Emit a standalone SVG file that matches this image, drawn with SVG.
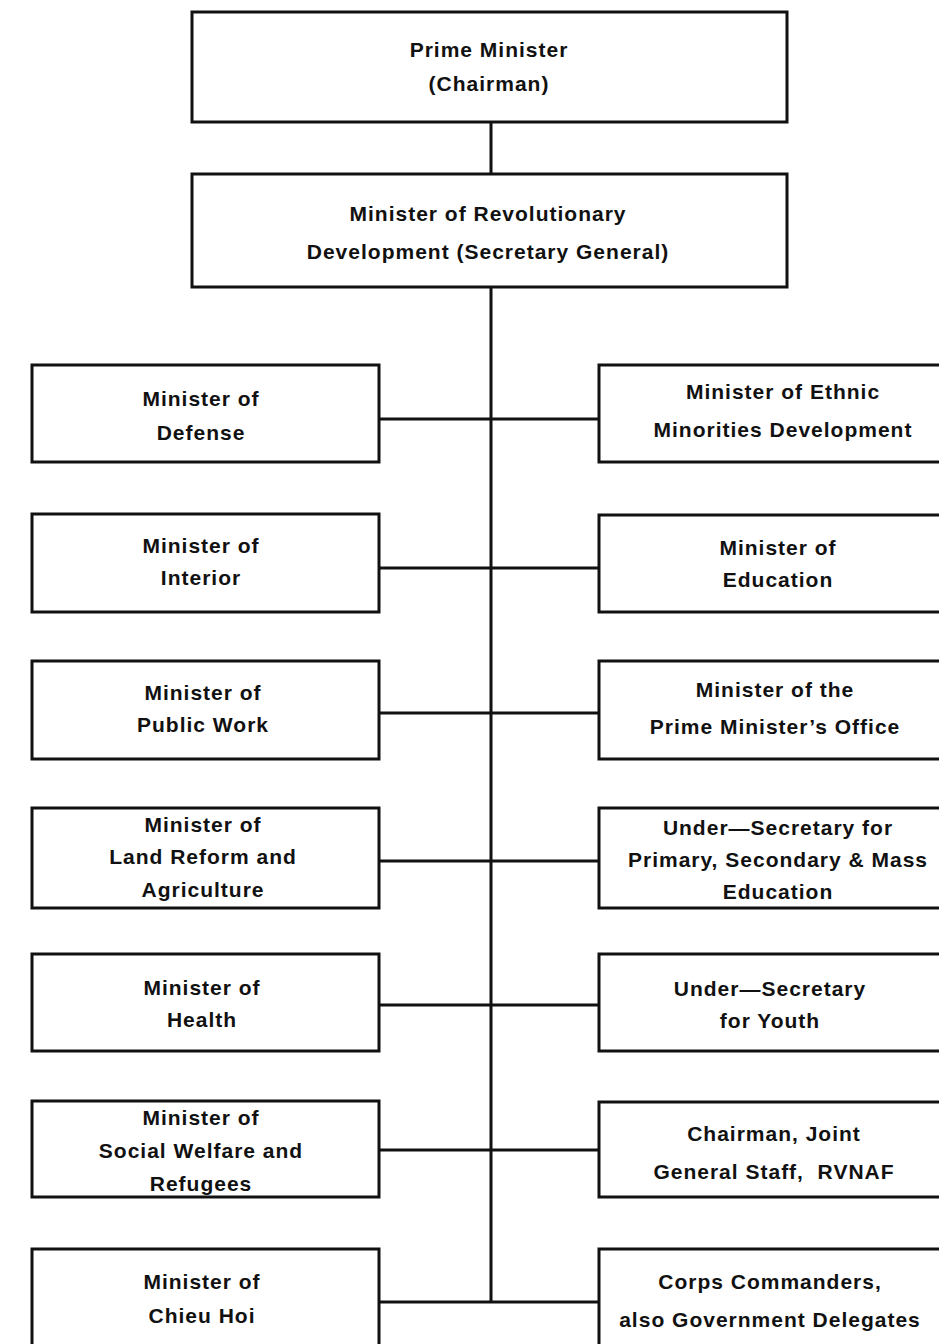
<svg xmlns="http://www.w3.org/2000/svg" width="939" height="1344" viewBox="0 0 939 1344">
  <style>
    .box { fill: #ffffff; stroke: #111111; stroke-width: 3; }
    .wire { fill: none; stroke: #111111; stroke-width: 3; }
    text { font-family: "Liberation Sans", Arial, sans-serif; font-weight: bold; font-size: 21px; letter-spacing: 1px; fill: #111111; text-anchor: middle; }
  </style>
  <rect width="939" height="1344" fill="#ffffff"/>

  <!-- connectors -->
  <g id="connectors">
    <line class="wire" x1="491" y1="122" x2="491" y2="174"/>
    <line class="wire" x1="491" y1="287" x2="491" y2="1302"/>
    <line class="wire" x1="379" y1="419" x2="599" y2="419"/>
    <line class="wire" x1="379" y1="568" x2="599" y2="568"/>
    <line class="wire" x1="379" y1="713" x2="599" y2="713"/>
    <line class="wire" x1="379" y1="861" x2="599" y2="861"/>
    <line class="wire" x1="379" y1="1005" x2="599" y2="1005"/>
    <line class="wire" x1="379" y1="1150" x2="599" y2="1150"/>
    <line class="wire" x1="379" y1="1302" x2="599" y2="1302"/>
  </g>

  <g id="prime-minister">
    <rect class="box" x="192" y="12" width="595" height="110"/>
    <text x="489" y="57">Prime Minister</text>
    <text x="489" y="91">(Chairman)</text>
  </g>

  <g id="revolutionary-development">
    <rect class="box" x="192" y="174" width="595" height="113"/>
    <text x="488" y="221">Minister of Revolutionary</text>
    <text x="488" y="259">Development (Secretary General)</text>
  </g>

  <!-- left column -->
  <g id="defense">
    <rect class="box" x="32" y="365" width="347" height="97"/>
    <text x="201" y="406">Minister of</text>
    <text x="201" y="440">Defense</text>
  </g>
  <g id="interior">
    <rect class="box" x="32" y="514" width="347" height="98"/>
    <text x="201" y="553">Minister of</text>
    <text x="201" y="585">Interior</text>
  </g>
  <g id="public-work">
    <rect class="box" x="32" y="661" width="347" height="98"/>
    <text x="203" y="700">Minister of</text>
    <text x="203" y="732">Public Work</text>
  </g>
  <g id="land-reform">
    <rect class="box" x="32" y="808" width="347" height="100"/>
    <text x="203" y="832">Minister of</text>
    <text x="203" y="864">Land Reform and</text>
    <text x="203" y="897">Agriculture</text>
  </g>
  <g id="health">
    <rect class="box" x="32" y="954" width="347" height="97"/>
    <text x="202" y="995">Minister of</text>
    <text x="202" y="1027">Health</text>
  </g>
  <g id="social-welfare">
    <rect class="box" x="32" y="1101" width="347" height="96"/>
    <text x="201" y="1125">Minister of</text>
    <text x="201" y="1158">Social Welfare and</text>
    <text x="201" y="1191">Refugees</text>
  </g>
  <g id="chieu-hoi">
    <rect class="box" x="32" y="1249" width="347" height="110"/>
    <text x="202" y="1289">Minister of</text>
    <text x="202" y="1323">Chieu Hoi</text>
  </g>

  <!-- right column -->
  <g id="ethnic-minorities">
    <rect class="box" x="599" y="365" width="360" height="97"/>
    <text x="783" y="399">Minister of Ethnic</text>
    <text x="783" y="437">Minorities Development</text>
  </g>
  <g id="education">
    <rect class="box" x="599" y="515" width="360" height="97"/>
    <text x="778" y="555">Minister of</text>
    <text x="778" y="587">Education</text>
  </g>
  <g id="pm-office">
    <rect class="box" x="599" y="661" width="360" height="98"/>
    <text x="775" y="697">Minister of the</text>
    <text x="775" y="734">Prime Minister’s Office</text>
  </g>
  <g id="mass-education">
    <rect class="box" x="599" y="808" width="360" height="100"/>
    <text x="778" y="835">Under—Secretary for</text>
    <text x="778" y="867">Primary, Secondary &amp; Mass</text>
    <text x="778" y="899">Education</text>
  </g>
  <g id="youth">
    <rect class="box" x="599" y="954" width="360" height="97"/>
    <text x="770" y="996">Under—Secretary</text>
    <text x="770" y="1028">for Youth</text>
  </g>
  <g id="joint-general-staff">
    <rect class="box" x="599" y="1102" width="360" height="95"/>
    <text x="774" y="1141">Chairman, Joint</text>
    <text x="774" y="1179">General Staff,&#160; RVNAF</text>
  </g>
  <g id="corps-commanders">
    <rect class="box" x="599" y="1249" width="360" height="110"/>
    <text x="770" y="1289">Corps Commanders,</text>
    <text x="770" y="1327">also Government Delegates</text>
  </g>
</svg>
